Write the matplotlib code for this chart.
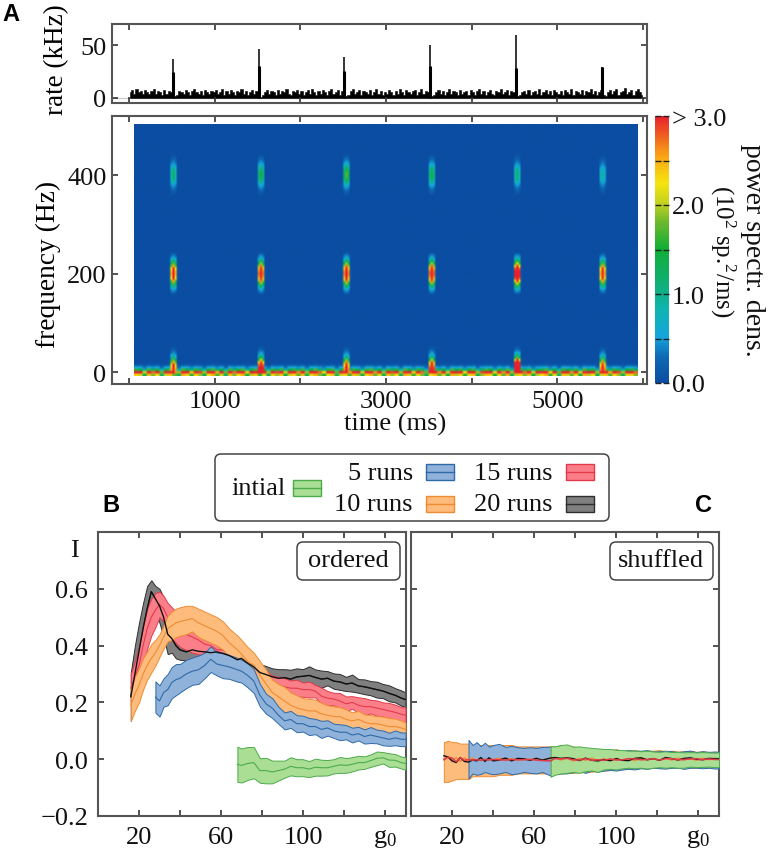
import numpy as np
import matplotlib
matplotlib.use('Agg')
import matplotlib.pyplot as plt
from matplotlib.colors import LinearSegmentedColormap
from matplotlib.patches import FancyBboxPatch, Rectangle

plt.rcParams['font.family'] = ['Liberation Serif']
plt.rcParams['mathtext.fontset'] = 'custom'
plt.rcParams['mathtext.rm'] = 'Liberation Serif'
plt.rcParams['mathtext.it'] = 'Liberation Serif:italic'
plt.rcParams['mathtext.default'] = 'rm'

# %% panel A data
rate_step = 25
rate_env = [5, 7, 4, 8, 5, 6, 4, 7, 5, 4, 6, 8, 4, 6, 5, 3, 7, 4, 6, 5, 7, 2, 3, 6, 5, 4, 7, 5, 3, 6, 8, 5, 4, 6, 3, 7, 5, 4, 6, 5,
            7, 4, 5, 8, 3, 6, 4, 7, 5, 3, 6, 5, 8, 4, 6, 3, 5, 7, 4, 6, 8, 1, 3, 5, 7, 4, 6, 5, 3, 7, 4, 6, 5, 8, 4, 3, 6, 5, 7, 4,
            6, 3, 5, 7, 4, 8, 5, 3, 6, 4, 7, 5, 3, 6, 8, 4, 5, 7, 3, 6, 7, 2, 3, 6, 8, 4, 5, 7, 3, 6, 5, 4, 7, 3, 5, 8, 4, 6, 3, 5,
            4, 7, 5, 3, 6, 4, 8, 5, 3, 7, 5, 4, 6, 7, 3, 5, 8, 4, 6, 5, 6, 2, 3, 5, 7, 4, 6, 3, 5, 8, 4, 6, 5, 3, 7, 4, 5, 6, 3, 7,
            5, 3, 6, 8, 4, 6, 3, 5, 7, 4, 3, 6, 5, 8, 4, 5, 7, 3, 6, 5, 7, 2, 3, 5, 6, 4, 7, 3, 5, 6, 4, 8, 3, 5, 7, 4, 6, 3, 7, 5,
            4, 6, 3, 7, 5, 4, 8, 3, 6, 5, 4, 7, 3, 6, 5, 8, 4, 6, 3, 5, 7, 3, 2, 5, 7, 4, 6, 8, 3, 5, 6, 9, 4, 5, 7, 3, 6, 8, 5, 3]
burst_times = [515, 1515, 2515, 3515, 4515, 5515]
burst_rate = [37, 46, 39, 50, 60, 29]
burst_shoulder = [24, 30, 25, 30, 28, 29]

power_400 = [1.25, 1.5, 1.75, 1.45, 1.2, 0.95]
power_200 = [3.6, 3.9, 3.9, 4.0, 4.6, 3.6]
power_0 = [3.6, 4.6, 3.8, 4.2, 6.0, 3.8]
harm_shape = [.05, .13, .22, .35, .5, .7, .88, .96, 1, .96, .88, .7, .5, .35, .22, .13, .05]
low_shape = [1, 1, .95, .85, .7, .5, .3, .2, .12, .06, .03]
time_shape = [.02, .7, 1, .7, .02]
low_band = [2.9, 2.6, 1.7, 3.0, 2.3, 2.8, 1.5, 2.6, 3.0, 2.2, 1.6, 3.1, 2.7, 2.0, 2.9, 2.4, 1.6, 2.8, 3.1, 2.1,
            2.6, 1.5, 3.0, 2.3, 2.8, 3.1, 1.8, 2.5, 3.0, 2.0, 2.7, 1.6, 2.9, 2.4, 3.0, 1.7, 2.6, 2.9, 2.2, 3.0,
            1.6, 2.7, 3.1, 2.3, 1.9, 2.8, 3.0, 1.5, 2.6, 2.9, 2.1, 3.0, 2.5, 1.7, 2.9, 3.1, 2.2, 2.7, 1.6,
            3.0, 2.4, 2.8, 1.6, 3.1, 2.6, 2.0, 2.9, 2.3, 1.5, 2.8, 3.0, 2.2, 2.6, 1.7, 3.1, 2.5, 2.9, 1.9, 2.7, 3.0,
            1.6, 2.4, 3.0, 2.7, 1.8, 2.9, 2.2, 3.1, 1.6, 2.6, 2.9, 2.3, 3.0, 1.7, 2.5, 2.8, 3.1, 2.0, 2.7, 1.5,
            3.0, 2.6, 2.2, 2.9, 1.7, 3.1, 2.5, 2.8, 1.6, 2.6, 3.0, 2.1, 2.9, 2.4, 1.6, 2.7, 2.9, 2.3]
low_rows = [.8, 1.2, .55, .2, .05]

# %% panels B and C data
g_vals = [16, 18, 20, 22, 24, 26, 28, 30, 32, 34,
          36, 38, 40, 43, 46, 49, 52, 55, 58, 61,
          64, 68, 70, 73, 76, 79, 82, 85, 88, 91,
          94, 97, 100, 103, 106, 109, 112, 115, 118, 121,
          124, 127, 130, 133, 136, 139, 142, 145, 148, 150]
i_blue = 6
i_green = 21

gray_mean = [.22, .30, .38, .46, .53, .59, .565, .54, .50, .44,
             .425, .40, .385, .378, .385, .38, .378, .375, .378, .372,
             .365, .35, .355, .338, .325, .305, .298, .29, .285, .287,
             .282, .29, .292, .295, .288, .282, .285, .275, .272, .265,
             .268, .258, .255, .25, .245, .24, .232, .225, .215, .21]
gray_hw = [.085, .10, .10, .09, .08, .04, .045, .06, .07, .07,
           .05, .045, .035, .03, .03, .03, .03, .03, .03, .03,
           .03, .03, .03, .03, .03, .03, .03, .03, .032, .03,
           .033, .03, .025, .032, .028, .03, .025, .027, .028, .025,
           .03, .024, .026, .025, .028, .025, .028, .025, .027, .025]
red_mean = [.25, .29, .33, .40, .46, .50, .525, .545, .53, .50,
            .48, .465, .45, .44, .43, .42, .405, .40, .385, .385,
            .37, .36, .345, .33, .315, .295, .28, .265, .262, .255,
            .25, .25, .245, .245, .24, .222, .215, .212, .205, .195,
            .20, .19, .185, .185, .18, .175, .17, .165, .158, .155]
red_hw = [.05, .055, .065, .07, .07, .065, .06, .045, .045, .05,
          .055, .055, .055, .055, .055, .05, .04, .035, .035, .035,
          .03, .03, .03, .03, .03, .03, .03, .03, .028, .03,
          .027, .03, .025, .028, .022, .03, .025, .022, .028, .026,
          .022, .028, .03, .024, .027, .025, .028, .027, .025, .027]
orange_mean = [.19, .23, .26, .30, .33, .355, .375, .40, .43, .46,
               .47, .48, .485, .49, .495, .48, .47, .46, .45, .435,
               .41, .385, .37, .345, .33, .295, .265, .235, .22, .205,
               .19, .18, .175, .17, .17, .16, .155, .15, .15, .14,
               .135, .14, .13, .125, .125, .12, .115, .115, .11, .105]
orange_hw = [.055, .06, .06, .055, .05, .05, .045, .04, .04, .045,
             .05, .05, .05, .05, .045, .05, .05, .05, .05, .05,
             .05, .05, .05, .05, .045, .05, .05, .045, .045, .05,
             .045, .045, .04, .042, .04, .038, .035, .036, .033, .035,
             .03, .03, .028, .03, .027, .03, .03, .028, .026, .024]
blue_mean = [.219, .205, .235, .245, .27, .28, .285, .30, .31, .315,
             .33, .352, .335, .33, .325, .315, .31, .295, .275, .225,
             .195, .18, .155, .135, .14, .125, .125, .115, .115, .105,
             .11, .10, .095, .095, .085, .09, .08, .085, .08, .075,
             .07, .075, .07, .07]
blue_hw = [.055, .055, .05, .055, .055, .055, .05, .05, .048, .05,
           .045, .045, .04, .045, .042, .042, .04, .042, .042, .04,
           .035, .035, .03, .03, .03, .03, .028, .03, .027, .03,
           .027, .025, .028, .025, .026, .024, .025, .028, .024, .026,
           .023, .026, .024, .024]
green_mean = [-.018, -.022, -.015, -.012, -.04, -.04, -.045, -.04, -.035, -.025,
              -.03, -.03, -.035, -.028, -.03, -.03, -.025, -.02, -.022, -.018,
              -.012, -.012, -.005, .003, .005, -.003, -.004, -.012, -.015]
green_hw = [.062, .06, .058, .055, .043, .045, .04, .035, .03, .032,
            .03, .03, .028, .03, .028, .027, .025, .028, .026, .025,
            .024, .022, .022, .024, .02, .024, .022, .021, .022]

c_orange_upper = [.06, .065, .06, .06, .055, .055, .055, .05, .05, .05,
                  .05, .05, .05, .05, .05, .05, .045, .045, .045, .045,
                  .045, .045, .045, .042, .04, .045, .04, .038, .035, .035,
                  .035, .032, .035, .03, .03, .032, .028, .03, .03, .032,
                  .028, .03, .027, .028, .03, .026, .028, .025, .026, .026]
c_orange_lower = [-.08, -.08, -.075, -.07, -.07, -.07, -.07, -.06, -.06, -.06,
                  -.06, -.06, -.06, -.055, -.055, -.055, -.05, -.05, -.05, -.05,
                  -.05, -.05, -.05, -.05, -.048, -.048, -.046, -.046, -.044, -.042,
                  -.04, -.038, -.036, -.036, -.032, -.034, -.03, -.032, -.03, -.03,
                  -.032, -.03, -.03, -.028, -.03, -.03, -.028, -.03, -.026, -.026]
c_blue_upper = [.068, .05, .06, .046, .058, .044, .05, .054, .043, .047,
                .042, .04, .042, .04, .043, .044, .043, .05, .04, .042,
                .04, .038, .035, .034, .032, .03, .033, .03, .032, .03,
                .03, .032, .027, .028, .03, .028, .025, .028, .03, .025,
                .028, .026, .027, .026]
c_blue_lower = [-.068, -.05, -.055, -.052, -.045, -.05, -.053, -.05, -.045, -.053,
                -.05, -.045, -.048, -.05, -.045, -.058, -.052, -.05, -.05, -.046,
                -.042, -.048, -.04, -.044, -.04, -.038, -.04, -.036, -.034, -.036,
                -.032, -.034, -.03, -.032, -.033, -.03, -.03, -.034, -.03, -.03,
                -.032, -.03, -.033, -.032]
c_green_upper = [.046, .045, .05, .052, .044, .045, .042, .04, .038, .036,
                 .036, .033, .032, .03, .03, .028, .03, .027, .026, .028,
                 .025, .026, .024, .025, .024, .025, .024, .023, .024]
c_green_lower = [-.062, -.055, -.05, -.048, -.045, -.048, -.042, -.04, -.045, -.036,
                 -.034, -.036, -.032, -.03, -.032, -.03, -.033, -.03, -.028, -.03,
                 -.028, -.03, -.03, -.026, -.028, -.027, -.026, -.028, -.027]
c_black = [.012, .008, -.006, -.012, .006, -.008, -.01, -.003, -.006, .006,
           -.008, .005, -.006, -.003, .004, -.006, .003, .001, -.004, .003,
           -.003, .004, .006, .003, .005, .002, -.005, .004, -.004, -.006,
           -.002, -.005, .002, -.004, -.005, .003, .005, -.002, .002, -.004,
           .006, .002, -.003, .003, .005, 0, -.002, .003, .002, .002]
c_red = [-.002, .007, .004, -.009, .005, -.004, -.002, -.003, -.002, -.004,
         -.001, -.003, -.001, -.002, -.003, -.001, -.002, -.002, -.001, -.003,
         -.005, -.006, .002, .001, .003, -.002, -.003, .002, -.004, -.002,
         -.004, .001, -.003, -.002, .002, .001, -.002, -.001, .002, -.003,
         .002, .002, -.002, -.001, .001, .002, -.002, .001, -.001, -.001]
c_orange = [.003, .008, -.006, .005, -.008, .004, -.003, .005, -.004, .002,
            -.005, .003, -.002, .004, -.003, .002, -.004, .002, -.002, .003,
            -.004, .005, .006, -.003, .004, -.006, .003, -.004, .004, -.005,
            .002, -.006, .003, -.004, .002, -.005, .004, -.003, .003, -.004,
            .003, -.003, .004, -.003, .002, -.004, .003, -.002, .002, -.002]

# colour, edge
gray_c = ('#7f7f7f', '#2e2e2e')
red_c = ('#fb7f88', '#e23a4c')
orange_c = ('#fdbb7c', '#ee8c33')
blue_c = ('#8fb2da', '#2f6aa6')
green_c = ('#a9de94', '#4cab4c')
spine_c = '#555555'
fs = 19

W, H = 768, 853
fig = plt.figure(figsize=(W / 100, H / 100), dpi=100)


def add_ax(l, t, r, b):
    return fig.add_axes([l / W, 1 - b / H, (r - l) / W, (b - t) / H])


def style(ax, pad=4):
    for s in ax.spines.values():
        s.set_color(spine_c)
        s.set_linewidth(1.5)
    ax.tick_params(which='both', direction='in', top=True, right=True, length=4,
                   width=1.2, color='#333333', labelsize=fs, pad=pad, labelcolor='#111111')


# %% rate
ax1 = add_ax(112, 25, 647, 104)
t_rate = rate_step / 2 + rate_step * np.arange(len(rate_env))
ax1.axhline(0, color='#cccccc', lw=1, zorder=0)
ax1.fill_between(t_rate, 0, rate_env, step='mid', color='black', lw=0.4)
ax1.vlines(burst_times, 0, burst_rate, color='black', lw=1.1)
ax1.vlines(burst_times, 0, burst_shoulder, color='black', lw=2.2)
ax1.set_xlim(-198, 6045)
ax1.set_ylim(-5, 70)
ax1.set_xticks(np.arange(0, 6001, 1000))
ax1.set_xticklabels([])
ax1.set_yticks([0, 50])
style(ax1)
ax1.set_ylabel('rate (kHz)', fontsize=19.5)
ax1.yaxis.set_label_coords(-0.08, 0.557)

# %% spectrogram
nt = len(low_band) * 2
spec = np.zeros((102, nt))
spec[:len(low_rows), :] = np.outer(low_rows, np.repeat(low_band, 2))
t0, t1 = 58, 5930
dt = (t1 - t0) / nt
for k, tb in enumerate(burst_times):
    col = int(round((tb - t0) / dt)) - len(time_shape) // 2
    c = col + np.arange(len(time_shape))
    r400 = 81 - len(harm_shape) // 2 + np.arange(len(harm_shape))
    r200 = 41 - len(harm_shape) // 2 + np.arange(len(harm_shape))
    r0 = 1 + np.arange(len(low_shape))
    spec[np.ix_(r400, c)] += power_400[k] * np.outer(harm_shape, time_shape)
    spec[np.ix_(r200, c)] += power_200[k] * np.outer(harm_shape, time_shape)
    spec[np.ix_(r0, c)] = np.maximum(spec[np.ix_(r0, c)], power_0[k] * np.outer(low_shape, time_shape))

cmap = LinearSegmentedColormap.from_list('power', [
    (0.0, '#0a4da2'), (0.1, '#0f6ab4'), (0.17, '#14a4dc'), (0.27, '#0fb4b4'), (0.35, '#0fb080'),
    (0.5, '#10ae35'), (0.6, '#6ab82e'), (0.68, '#c8d41e'), (0.75, '#f6e40e'), (0.85, '#f9a514'),
    (1.0, '#e8202c')])

ax2 = add_ax(112, 117, 647, 385)
im = ax2.imshow(spec, origin='lower', aspect='auto', cmap=cmap, vmin=0, vmax=3,
                extent=(t0, t1, -7.5, 502.5), interpolation='bilinear')
ax2.set_xlim(-198, 6045)
ax2.set_ylim(-24, 520)
ax2.set_xticks(np.arange(0, 6001, 1000))
ax2.set_xticklabels(['', '1000', '', '3000', '', '5000', ''])
ax2.set_yticks([0, 200, 400])
style(ax2, pad=4)
ax2.set_ylabel('frequency (Hz)', fontsize=19.7)
ax2.yaxis.set_label_coords(-0.095, 0.448)

cax = add_ax(655, 117, 669, 384)
cb = fig.colorbar(im, cax=cax)
cb.set_ticks([0, .5, 1, 1.5, 2, 2.5, 3])
cb.set_ticklabels(['0.0', '', '1.0', '', '2.0', '', '> 3.0'])
cb.outline.set_visible(False)
cax.tick_params(left=True, right=True, direction='in', length=4, width=1, color='#222222',
                labelsize=fs, pad=2, labelcolor='#111111')


# %% bands
def band(ax, x, mean, lo, hi, col, z):
    ax.fill_between(x, lo, hi, facecolor=col[0], edgecolor=col[1], lw=0.7, zorder=z)
    if mean is not None:
        ax.plot(x, mean, color=col[1], lw=0.8, zorder=z + 0.1)


axb = add_ax(98, 533, 405.5, 817)
series_b = [(g_vals, gray_mean, gray_hw, gray_c, 2),
            (g_vals, red_mean, red_hw, red_c, 3),
            (g_vals, orange_mean, orange_hw, orange_c, 4),
            (g_vals[i_blue:], blue_mean, blue_hw, blue_c, 5),
            (g_vals[i_green:], green_mean, green_hw, green_c, 6)]
for x, m, hw, col, z in series_b:
    m, hw = np.array(m), np.array(hw)
    band(axb, x, m, m - hw, m + hw, col, z)
axb.plot(g_vals, gray_mean, color='#111111', lw=1.0, zorder=8)

axc = add_ax(411, 533, 719, 817)
band(axc, g_vals, None, c_orange_lower, c_orange_upper, orange_c, 3)
band(axc, g_vals[i_blue:], None, c_blue_lower, c_blue_upper, blue_c, 4)
band(axc, g_vals[i_green:], None, c_green_lower, c_green_upper, green_c, 5)
axc.plot(g_vals, c_orange, color=orange_c[1], lw=1.0, zorder=8)
axc.plot(g_vals, c_black, color='#111111', lw=1.0, zorder=9)
axc.plot(g_vals, c_red, color=red_c[1], lw=1.1, zorder=10)

for ax in (axb, axc):
    ax.set_xlim(0, 150)
    ax.set_ylim(-0.2, 0.8)
    ax.set_xticks([20, 40, 60, 80, 100, 120, 140])
    ax.set_xticklabels(['20', '', '60', '', '100', '', 'g$_0$'])
    ax.set_yticks([-0.2, 0, 0.2, 0.4, 0.6])
    style(ax, pad=7)
axb.set_yticklabels(['\u22120.2', '0.0', '0.2', '0.4', '0.6'])
axc.tick_params(labelleft=False)

# %% overlay for legend, letters, boxed labels (pixel coordinates)
ov = fig.add_axes([0, 0, 1, 1], zorder=20)
ov.set_xlim(0, W)
ov.set_ylim(H, 0)
ov.axis('off')

for label, x in (('A', 11), ('B', 111), ('C', 703)):
    y = 14 if label == 'A' else 506
    ov.text(x, y, label, family='Liberation Sans', weight='bold', fontsize=17,
            ha='center', va='center', color='black')

ov.text(74, 551, 'I', fontsize=fs, ha='center', va='center', color='#111111')
ov.text(395, 424, 'time (ms)', fontsize=fs, ha='center', va='center', color='#111111')
ov.text(752, 250, 'power spectr. dens.', fontsize=20, rotation=270, ha='center', va='center', color='#111111')
ov.text(723, 251, '(10$^2$ sp.$^2$/ms)', fontsize=fs - 1, rotation=270, ha='center', va='center', color='#111111')


def rbox(x0, y0, x1, y1, r=6):
    ov.add_patch(FancyBboxPatch((x0 + r, y0 + r), x1 - x0 - 2 * r, y1 - y0 - 2 * r,
                                boxstyle='round,pad=%d,rounding_size=%d' % (r, r),
                                fc='white', ec='#444444', lw=1.1))


rbox(297, 543, 400, 581)
ov.text(348, 561, 'ordered', fontsize=fs, ha='center', va='center', color='#111111')
rbox(610, 543, 713, 581)
ov.text(661, 561, 'shuffled', fontsize=fs, ha='center', va='center', color='#111111')

rbox(215, 455, 609, 522)


def swatch(x, y, col):
    ov.add_patch(Rectangle((x, y), 28, 16, fc=col[0], ec=col[1], lw=1))
    ov.plot([x, x + 28], [y + 8, y + 8], color=col[1], lw=1)


ov.text(286, 489, 'intial', fontsize=fs, ha='right', va='center', color='#111111')
swatch(293, 481, green_c)
ov.text(413, 474, '5 runs', fontsize=fs, ha='right', va='center', color='#111111')
swatch(425.5, 465, blue_c)
ov.text(413, 505, '10 runs', fontsize=fs, ha='right', va='center', color='#111111')
swatch(425.5, 497, orange_c)
ov.text(553, 474, '15 runs', fontsize=fs, ha='right', va='center', color='#111111')
swatch(565.5, 465, red_c)
ov.text(553, 505, '20 runs', fontsize=fs, ha='right', va='center', color='#111111')
swatch(565.5, 497, gray_c)

fig.savefig('out.png', dpi=100)
